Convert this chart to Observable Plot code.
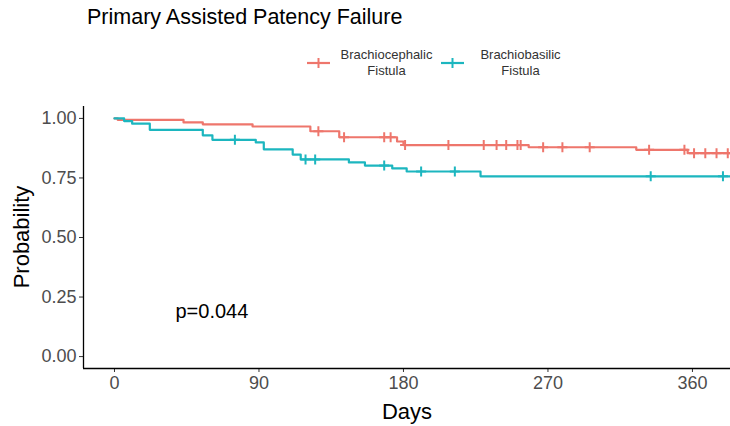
<!DOCTYPE html>
<html><head><meta charset="utf-8">
<script src="https://cdn.jsdelivr.net/npm/d3@7"></script>
<script src="https://cdn.jsdelivr.net/npm/@observablehq/plot@0.6"></script>
<style>
body{margin:0;background:#fff;font-family:"Liberation Sans",Arial,sans-serif;}
#wrap{position:relative;width:730px;height:426px;overflow:hidden;background:#fff}
#wrap > svg{position:absolute;left:0;top:0}
.t{position:absolute;white-space:nowrap}
#legend{position:absolute;left:305px;top:47px;display:flex;align-items:center}
.item{display:flex;align-items:center;margin-right:5px}
.lab{font-size:13px;line-height:16px;text-align:center;color:#333;margin-left:8px;width:95px}
</style></head><body>
<div id="wrap">
<div class="t" style="left:87px;top:5px;font-size:21.5px;color:#000">Primary Assisted Patency Failure</div>
<div id="legend"></div>
</div>
<script>
// ---- data ----
const groups = ["Brachiocephalic\nFistula", "Brachiobasilic\nFistula"];
const colors = ["#EE766C", "#1CB6BF"];

const cephalicDays = [0, 2, 43, 55, 86, 122, 140, 176, 180, 258, 325, 357, 384];
const cephalicSurv = [1, 0.994, 0.983, 0.975, 0.966, 0.946, 0.921, 0.903, 0.888, 0.879, 0.868, 0.854, 0.854];
const cephalicCensored = [127, 143, 168, 172, 181, 208, 230, 238, 244, 251, 253, 267, 279, 296, 333, 355, 361, 368, 375, 382];

const basilicDays = [0, 6, 11, 22, 55, 61, 88, 93, 111, 116, 146, 156, 173, 182, 228, 384];
const basilicSurv = [1, 0.989, 0.978, 0.952, 0.929, 0.91, 0.899, 0.870, 0.848, 0.828, 0.815, 0.802, 0.790, 0.777, 0.757, 0.757];
const basilicCensored = [75, 119, 125, 168, 191, 212, 334, 379];

const xTicks = [0, 90, 180, 270, 360];
const yTicks = [0, 0.25, 0.5, 0.75, 1];
const pValueText = "p=0.044";
const pValueDay = 38;
const pValueProb = 0.19;

// ---- build tables ----
function survAt(days, surv, t) {
  let s = surv[0];
  for (let i = 0; i < days.length; i++) if (days[i] <= t) s = surv[i];
  return s;
}
const series = [
  {g: groups[0], days: cephalicDays, surv: cephalicSurv, cens: cephalicCensored},
  {g: groups[1], days: basilicDays, surv: basilicSurv, cens: basilicCensored}
];
const curve = series.flatMap(s => s.days.map((d, i) => ({group: s.g, day: d, surv: s.surv[i]})));
const censor = series.flatMap(s => s.cens.map(d => ({group: s.g, day: d, surv: survAt(s.days, s.surv, d)})));

const plus = {
  draw(ctx, size) {
    const r = Math.sqrt(size / Math.PI);
    ctx.moveTo(-r, 0); ctx.lineTo(r, 0);
    ctx.moveTo(0, -r); ctx.lineTo(0, r);
  }
};

const xDomain = [-19.3, 383.7];
const yDomain = [-0.05, 1.05];

const chart = Plot.plot({
  width: 730, height: 426,
  marginLeft: 83, marginRight: 0, marginTop: 106, marginBottom: 58,
  style: {fontFamily: "'Liberation Sans', Arial, sans-serif", background: "transparent", overflow: "visible"},
  x: {domain: xDomain},
  y: {domain: yDomain},
  color: {domain: groups, range: colors},
  marks: [
    Plot.axisX({ticks: xTicks, tickSize: 4, tickPadding: 4, fontSize: 18, stroke: "#333", fill: "#4d4d4d", label: null}),
    Plot.axisY({ticks: yTicks, tickSize: 4, tickPadding: 3, fontSize: 18, stroke: "#333", fill: "#4d4d4d", tickFormat: d3.format(".2f"), label: null}),
    Plot.ruleX([xDomain[0]], {stroke: "#000", strokeWidth: 1.3}),
    Plot.ruleY([yDomain[0]], {stroke: "#000", strokeWidth: 1.3}),
    Plot.line(curve, {x: "day", y: "surv", z: "group", stroke: "group", curve: "step-after", strokeWidth: 2.2}),
    Plot.dot(censor, {x: "day", y: "surv", stroke: "group", symbol: plus, r: 5, fill: "none", strokeWidth: 2}),
    Plot.text([pValueText], {x: () => pValueDay, y: () => pValueProb, text: d => d, textAnchor: "start", fontSize: 20, fill: "#000"})
  ]
});
const wrap = document.getElementById("wrap");
wrap.insertBefore(chart, wrap.firstChild);

// axis titles
const xt = document.createElement("div");
xt.className = "t";
xt.style.cssText = "left:84px;width:646px;top:399px;text-align:center;font-size:22px;color:#000";
xt.textContent = "Days";
wrap.appendChild(xt);
const yt = document.createElement("div");
yt.className = "t";
yt.style.cssText = "left:22px;top:237px;font-size:22px;color:#000;transform:translate(-50%,-50%) rotate(-90deg)";
yt.textContent = "Probability";
wrap.appendChild(yt);

// legend
const leg = document.getElementById("legend");
groups.forEach((g, i) => {
  const it = document.createElement("div");
  it.className = "item";
  const ns = "http://www.w3.org/2000/svg";
  const s = document.createElementNS(ns, "svg");
  s.setAttribute("width", 26); s.setAttribute("height", 20);
  s.innerHTML = `<line x1="2" x2="25" y1="10" y2="10" stroke="${colors[i]}" stroke-width="2.2"/><line x1="13.5" x2="13.5" y1="5" y2="15" stroke="${colors[i]}" stroke-width="2"/>`;
  it.appendChild(s);
  const l = document.createElement("div");
  l.className = "lab";
  l.innerHTML = g.split("\n").join("<br>");
  it.appendChild(l);
  leg.appendChild(it);
});
</script>
</body></html>
